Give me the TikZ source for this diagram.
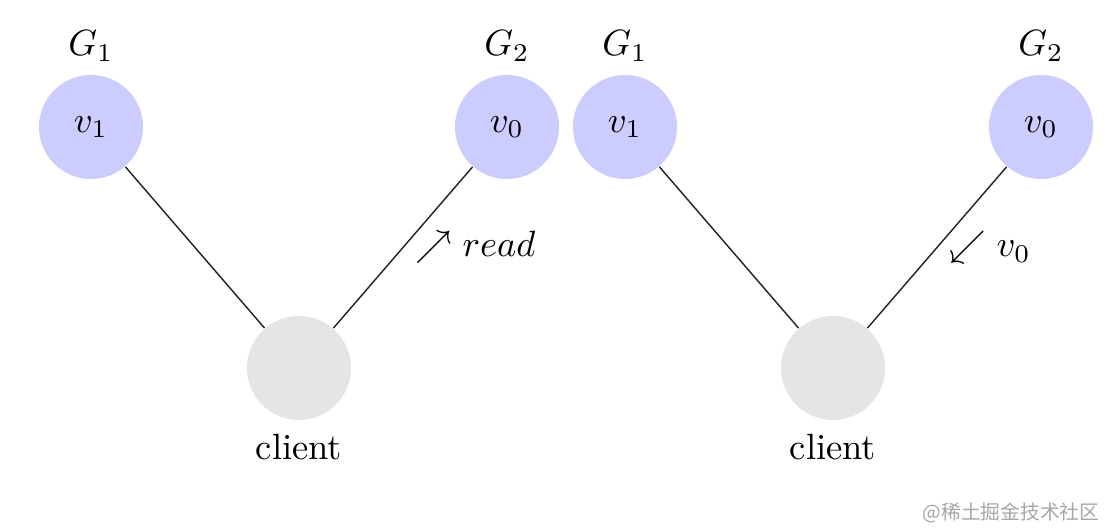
\documentclass[tikz,border=0pt]{standalone}
\usepackage{fontspec}
\newfontfamily\cjk{Noto Sans CJK SC}
\begin{document}
\begin{tikzpicture}[x=0.2735pt,y=-0.2735pt,
  vnode/.style={circle, fill=blue!20, minimum size=1cm, inner sep=0pt},
  cnode/.style={circle, fill=black!10, minimum size=1cm, inner sep=0pt},
  link/.style={draw=black!85, line width=0.4pt}]
\useasboundingbox (0,0) rectangle (1106,530);
% left panel
\node[vnode, label={above:$G_1$}] (lv1) at (91,127) {$v_1$};
\node[vnode, label={above:$G_2$}] (lv0) at (507,127) {$v_0$};
\node[cnode, label={below:client}] (lc) at (299,368) {};
\draw[link] (lv1) -- (lc);
\draw[link] (lv0) -- (lc) node[midway, right, text=black] (lread) {$\nearrow read$};
% right panel
\node[vnode, label={above:$G_1$}] (rv1) at (625,127) {$v_1$};
\node[vnode, label={above:$G_2$}] (rv0) at (1041,127) {$v_0$};
\node[cnode, label={below:client}] (rc) at (833,368) {};
\draw[link] (rv1) -- (rc);
\draw[link] (rv0) -- (rc) node[midway, right, text=black] (rval) {$\swarrow v_0$};
% watermark
\node[text=black!35, font=\cjk\fontsize{5.4}{6}\selectfont] (wm) at (1011,513) {@稀土掘金技术社区};
\end{tikzpicture}
\end{document}
